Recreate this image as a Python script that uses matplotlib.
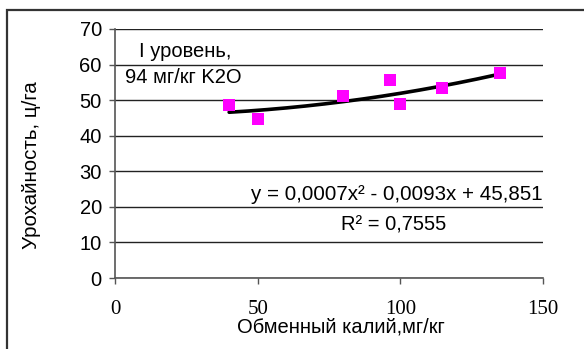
import numpy as np
import matplotlib
matplotlib.use("Agg")
import matplotlib.pyplot as plt
from matplotlib.patches import Rectangle

plt.rcParams['font.family'] = ['Liberation Sans', 'DejaVu Sans']

# Exchangeable potassium vs yield, level I
potassium = [40, 50, 80, 96.5, 100, 114.5, 135]
yield_c = [48.5, 44.7, 51.2, 55.6, 49.0, 53.3, 57.7]

# Polynomial trend coefficients (a*x^2 + b*x + c)
coef_a, coef_b, coef_c = 0.0007, -0.0093, 45.851
r2 = 0.7555

x_ticks = [0, 50, 100, 150]
y_ticks = [0, 10, 20, 30, 40, 50, 60, 70]

fig = plt.figure(figsize=(5.84, 3.49), dpi=100)
ax = fig.add_axes([115 / 584, 71 / 349, 428 / 584, 249 / 349])

# outer chart frame
fig.patches.append(Rectangle((7 / 584, -0.1), 1.2, 1 - 10 / 349 + 0.1,
                             transform=fig.transFigure, fill=False,
                             edgecolor='#333333', lw=1.6, clip_on=False))

xs = np.linspace(min(potassium), max(potassium), 200)
trend = coef_a * xs ** 2 + coef_b * xs + coef_c
ax.plot(xs, trend, color='black', lw=2.6, zorder=3, solid_capstyle='round')
ax.plot(potassium, yield_c, 's', color='#FF00FF', markersize=8.5,
        markeredgewidth=0, zorder=4)

ax.set_xlim(0, 150)
ax.set_ylim(0, 70)
ax.set_xticks(x_ticks)
ax.set_yticks(y_ticks)
ax.set_xticklabels([str(t) for t in x_ticks], family='Liberation Serif', fontsize=15)
ax.set_yticklabels([str(t) for t in y_ticks], fontsize=14.5)
ax.tick_params(axis='both', direction='out', length=4, width=1, color='#555555')
ax.tick_params(axis='x', pad=12)
ax.tick_params(axis='y', pad=5.5)

ax.yaxis.grid(True, color='#222222', lw=1)
ax.set_axisbelow(True)
for s in ['top', 'right']:
    ax.spines[s].set_visible(False)
for s in ['left', 'bottom']:
    ax.spines[s].set_color('#555555')
    ax.spines[s].set_linewidth(1.2)

ax.set_xlabel('Обменный калий,мг/кг', fontsize=14.5)
ax.xaxis.set_label_coords(0.528, -0.158)
ax.set_ylabel('Урохайность, ц/га', fontsize=14.8)
ax.yaxis.set_label_coords(-0.172, 0.454)

ax.text(8.4, 63.6, 'I уровень,', fontsize=14.5, va='center', ha='left')
ax.text(3.5, 56.5, '94 мг/кг K2O', fontsize=14.5, va='center', ha='left')

ax.text(150, 21.9, 'y = 0,0007x² - 0,0093x + 45,851', fontsize=14.8,
        ha='right', va='baseline')
ax.text(79.2, 13.4, 'R² = 0,7555', fontsize=14.5, ha='left', va='baseline')

fig.savefig('out.png', dpi=100)
